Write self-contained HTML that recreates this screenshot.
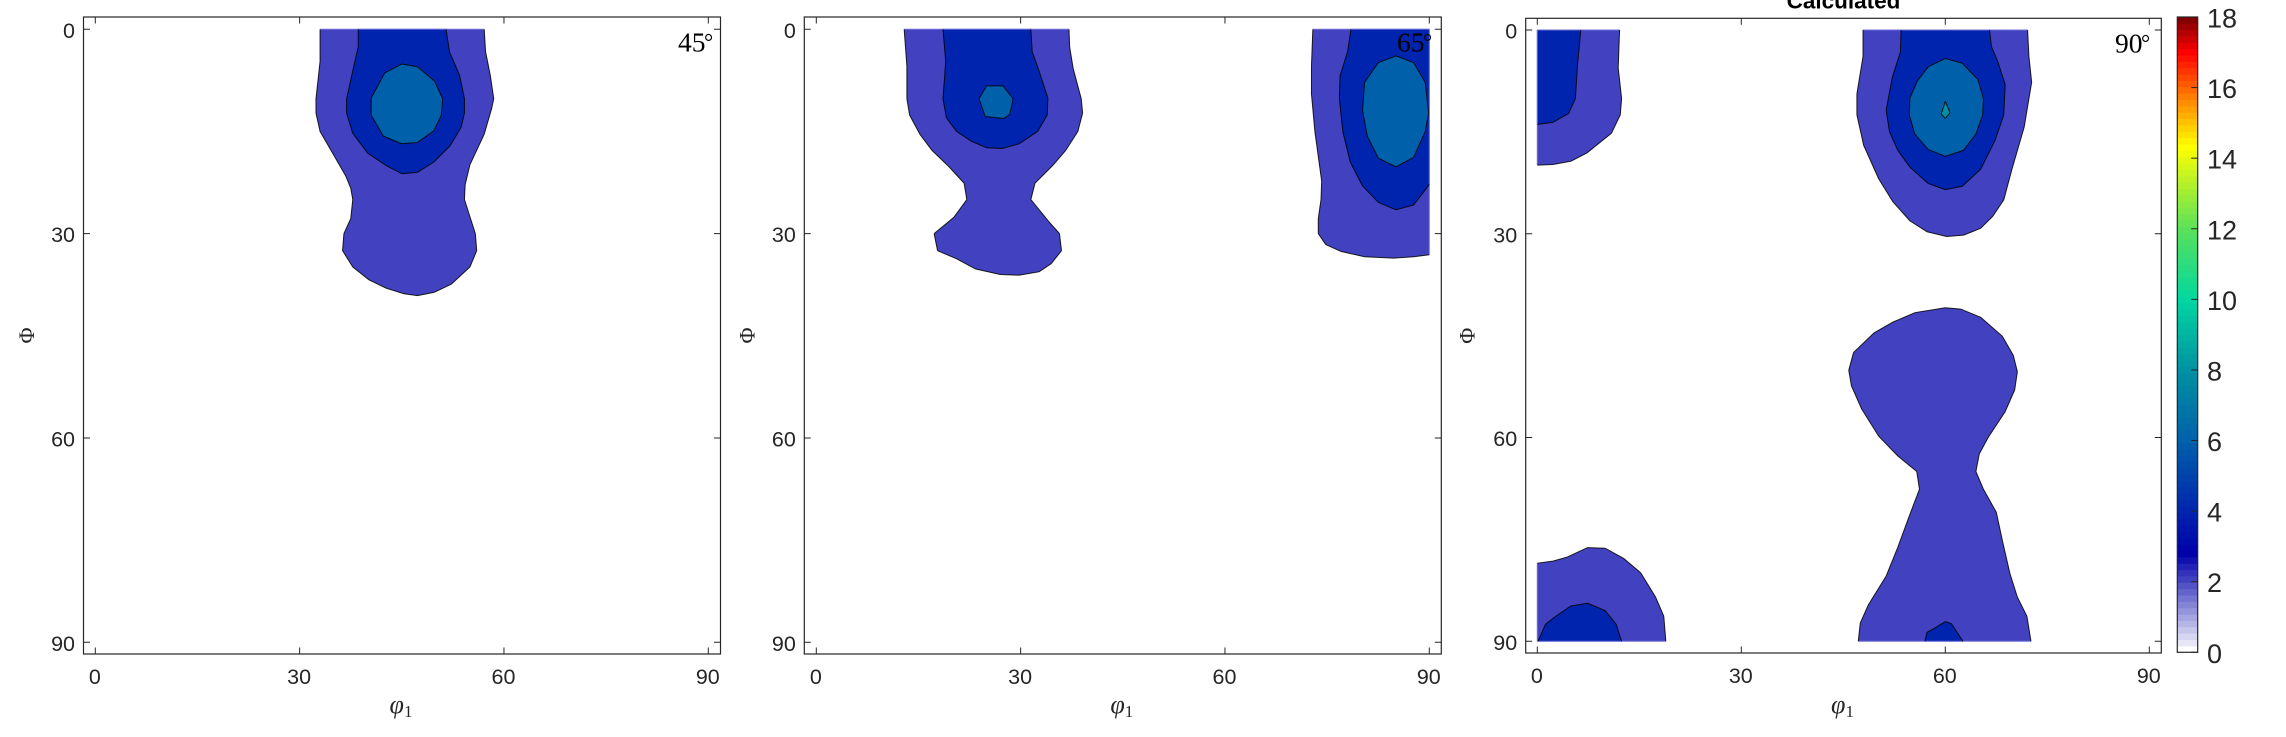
<!DOCTYPE html>
<html lang="en">
<head>
<meta charset="utf-8">
<title>Calculated ODF sections</title>
<style>
html,body{margin:0;padding:0;background:#fff;}
body{width:2286px;height:737px;overflow:hidden;}
svg{display:block;}
.tick{font-family:"Liberation Sans",sans-serif;font-size:21.5px;fill:#262626;}
.cbtick{font-family:"Liberation Sans",sans-serif;font-size:27px;fill:#262626;}
.math{font-family:"Liberation Serif",serif;fill:#262626;}
.anno{font-family:"Liberation Serif",serif;font-size:27.5px;fill:#000;}
.title{font-family:"Liberation Sans",sans-serif;font-size:22.5px;font-weight:bold;fill:#000;}
</style>
</head>
<body>
<svg id="chart" xmlns="http://www.w3.org/2000/svg" width="2286" height="737" viewBox="0 0 2286 737">
  <rect x="0" y="0" width="2286" height="737" fill="#fff"/>
  <text class="title" x="1843.5" y="8.5" text-anchor="middle">Calculated</text>
</svg>
<script>
// ---- chart data: axis ticks ----
const xTickValues = [0, 30, 60, 90];
const yTickValues = [0, 30, 60, 90];
const colorbarTickValues = [0, 2, 4, 6, 8, 10, 12, 14, 16, 18];
const sectionLabels = ['45', '65', '90'];
const contourLevels = { low: 2.07, mid: 4, high: 6, peak: 8 };
const colorbarMax = 18;
const colorbarBandCount = 100;

// ---- chart data: colour map stops, [value, r, g, b] ----
const colormapStops = [
  [0, 255, 255, 255], [2.8, 0, 0, 170], [4, 0, 36, 173], [6, 0, 97, 170], [8, 0, 145, 162],
  [10, 0, 215, 160], [12, 90, 225, 90], [14.35, 255, 255, 0], [15.7, 255, 130, 0],
  [17, 255, 0, 0], [18, 120, 0, 0]
];

// ---- chart data: contours as [phi1, Phi] in degrees ----
const s45Low = [[33,0],[33,4.7],[32.4,10.2],[32.4,12.3],[33,15],[35.2,18.8],[36.8,21.6],[37.5,23.3],[37.8,25],[37.5,27.8],[36.5,30],[36.3,32.5],[37.8,34.9],[40.2,36.8],[42.7,38],[45.2,38.8],[47.3,39.1],[49.8,38.6],[52.3,37.4],[55,34.9],[56,32.5],[55.8,30],[55,27.5],[54.2,25],[54.3,22.8],[55,19.9],[57.1,15.4],[58.2,11.6],[58.5,10.2],[58,6.8],[57.3,3.3],[57.1,0]];
const s45Mid = [[38.6,0],[38.6,2.6],[37.8,6.1],[36.9,10.2],[36.9,12.3],[37.8,15.3],[40,18.2],[42.7,20],[45,21.2],[47.3,21],[49.7,19.5],[52.1,17.1],[53.7,14.4],[54.2,12.3],[54.2,10.2],[53.5,6.8],[52,3.3],[51.5,0]];
const s45High = [[45,5.1],[47.3,5.5],[49.8,7.6],[51,10.2],[50.8,12.6],[49.7,14.9],[47.3,16.6],[45,16.8],[42.3,15.7],[40.5,12.6],[40.5,10.1],[42.5,6.4]];

const s65LeftLow = [[12.9,0],[13.3,5.4],[13.3,10.2],[13.7,12.6],[15.2,15.4],[17,17.8],[19.5,20.2],[21.7,22.6],[22.1,25],[20.2,27.6],[17.3,30],[17.8,32.5],[20.6,33.7],[23.4,35.2],[27,36],[29.8,36.1],[32.7,35.6],[34.5,34.4],[36,32.5],[35.7,30],[34.1,28.2],[31.5,25],[32.1,22.6],[34.8,19.9],[36.6,17.8],[38.4,15],[39.1,12.3],[38.9,10.2],[37.7,5.7],[37.2,2.6],[37.1,0]];
const s65LeftMid = [[18.6,0],[19,4.7],[18.6,10.2],[19.1,13],[20.6,15],[22.7,16.4],[25,17.4],[27.3,17.5],[29.8,16.8],[32.5,15],[33.9,12.6],[34,10.1],[32.7,6.1],[31.7,3.3],[31.5,0]];
const s65LeftHigh = [[25,8.3],[27.4,8.3],[28.9,10.2],[28.4,12.5],[27.5,13.1],[24.8,12.8],[23.9,10.2]];
const s65RightLow = [[72.9,0],[72.7,5.4],[72.7,9.5],[73.2,15],[74.2,22.3],[74.1,25],[73.7,27.8],[73.7,30],[74.8,31.6],[77,32.6],[80.5,33.4],[84.8,33.6],[87.7,33.4],[90,33.1],[90,0]];
const s65RightMid = [[78.5,0],[78,3.3],[76.9,6.8],[76.8,10.2],[77.3,15],[78.4,19.5],[80.2,23],[82.5,25.4],[85.1,26.5],[87.7,25.8],[90,22.8],[90,0]];
const s65RightHigh = [[85.1,3.9],[87.7,4.9],[89.4,7.8],[89.9,12.3],[89.4,15],[87.7,18.8],[85.1,20.2],[82.5,18.9],[80.9,15.7],[80.2,11.9],[80.5,7.8],[82.5,4.9]];

const s90TopLeftLow = [[0,0],[12.1,0],[11.9,5.6],[12.4,10.1],[12.2,12.5],[10.9,15.2],[7.3,18.1],[5,19.3],[2.3,19.8],[0,19.9]];
const s90TopLeftMid = [[0,0],[6.4,0],[5.9,5.3],[5.6,10.1],[4.6,12.3],[2.3,13.6],[0,13.9]];
const s90TopLow = [[47.9,0],[47.9,3.9],[47,9.4],[47,12.5],[48,17],[50.2,21.9],[52.3,25.3],[54.8,28.1],[57.3,29.7],[60.2,30.4],[62.7,30.2],[65.2,29.2],[67,27.4],[68.6,25],[69.8,20.5],[71.6,14.3],[72.7,7.7],[72.3,3.9],[72.1,0]];
const s90TopMid = [[53.5,0],[53.4,3.2],[52.2,7],[51.3,11.8],[51.8,15],[53,17.7],[54.8,20.2],[57.5,22.6],[60,23.5],[62.5,23],[65.2,20.5],[67.3,16.3],[68.6,12.5],[68.8,8],[67.7,4.6],[66.8,2.5],[66.5,0]];
const s90TopHigh = [[60,4.2],[62.5,4.9],[64.8,7.3],[65.6,10.1],[65.5,12.5],[64.5,15.3],[62.7,17.7],[60,18.6],[57.5,17.6],[55.5,15.3],[54.7,12.5],[54.8,10],[55.9,7.5],[57.5,5.4]];
const s90TopPeak = [[60,10.5],[60.7,12.2],[60,13],[59.4,12.4]];
const s90CentreLow = [[60,40.9],[62.3,41.1],[65.2,42.3],[68.4,45.1],[70,47.9],[70.6,50.3],[70.2,53],[68.8,56.2],[66.3,60],[65,62.4],[64.5,65],[65.6,67.6],[67.5,71],[68.4,75.2],[69.5,80],[70.6,83.5],[72,86.3],[72.6,90],[47.2,90],[47.5,87.3],[48.7,84.6],[51.3,80.4],[53,76.2],[54.5,72.1],[56.2,67.6],[55.8,65],[53,62.7],[50.2,59.8],[47.7,55.8],[46.2,52.4],[45.8,50.1],[46.5,47.5],[49.5,44.6],[52.3,43],[55.6,41.6]];
const s90CentreMid = [[57,90],[57.3,88.7],[58.7,87.9],[60,87.1],[60.9,87.4],[62.6,90]];
const s90BottomLeftLow = [[0,78.5],[2.3,78.2],[4.4,77.6],[7.4,76.2],[10,76.3],[12.7,77.8],[15.2,79.9],[17.4,83.5],[18.6,86.3],[18.9,90],[0,90]];
const s90BottomLeftMid = [[0.1,90],[1.2,87.5],[2.6,86.4],[4.9,84.8],[7.4,84.4],[10,85.5],[11.6,87.5],[12.4,90]];

const section45Contours = [
  { level: contourLevels.low, points: s45Low }, { level: contourLevels.mid, points: s45Mid }, { level: contourLevels.high, points: s45High }
];
const section65Contours = [
  { level: contourLevels.low, points: s65LeftLow }, { level: contourLevels.mid, points: s65LeftMid }, { level: contourLevels.high, points: s65LeftHigh },
  { level: contourLevels.low, points: s65RightLow }, { level: contourLevels.mid, points: s65RightMid }, { level: contourLevels.high, points: s65RightHigh }
];
const section90Contours = [
  { level: contourLevels.low, points: s90TopLeftLow }, { level: contourLevels.mid, points: s90TopLeftMid },
  { level: contourLevels.low, points: s90TopLow }, { level: contourLevels.mid, points: s90TopMid }, { level: contourLevels.high, points: s90TopHigh }, { level: contourLevels.peak, points: s90TopPeak },
  { level: contourLevels.low, points: s90CentreLow }, { level: contourLevels.mid, points: s90CentreMid },
  { level: contourLevels.low, points: s90BottomLeftLow }, { level: contourLevels.mid, points: s90BottomLeftMid }
];

// ---- layout (not data) ----
const panelBoxes = [
  { left: 83.5, right: 720.5, top: 17, bottom: 654, x0: 95.3, x90: 708.3, y0: 29.3, y90: 642.3, ylabelX: 27, annoX: 678, annoY: 51.7 },
  { left: 804.3, right: 1441.3, top: 17, bottom: 654, x0: 816.3, x90: 1429.3, y0: 29.3, y90: 642.3, ylabelX: 747.5, annoX: 1397, annoY: 51.7 },
  { left: 1525.7, right: 2161.3, top: 18.3, bottom: 653, x0: 1537.3, x90: 2149.3, y0: 30, y90: 641.3, ylabelX: 1467.5, annoX: 2115, annoY: 52.5 }
];
const colorbarBox = { left: 2177.3, right: 2197.7, top: 17, bottom: 652.3 };
const sectionContours = [section45Contours, section65Contours, section90Contours];

const svg = document.getElementById('chart');
const NS = 'http://www.w3.org/2000/svg';
const AXIS_COLOR = '#262626';

function make(tag, attrs, text) {
  const el = document.createElementNS(NS, tag);
  for (const k in attrs) el.setAttribute(k, attrs[k]);
  if (text !== undefined) el.textContent = text;
  return el;
}

function colormap(v) {
  for (let i = 1; i < colormapStops.length; i++) {
    const a = colormapStops[i - 1], b = colormapStops[i];
    if (v <= b[0]) {
      const t = (v - a[0]) / (b[0] - a[0]);
      return 'rgb(' + [1, 2, 3].map(function (c) { return Math.round(a[c] + (b[c] - a[c]) * t); }).join(',') + ')';
    }
  }
  const last = colormapStops[colormapStops.length - 1];
  return 'rgb(' + last[1] + ',' + last[2] + ',' + last[3] + ')';
}

function onBoundary(p, q) {
  return (p[0] === q[0] && (p[0] === 0 || p[0] === 90)) || (p[1] === q[1] && (p[1] === 0 || p[1] === 90));
}

function drawContour(group, contour, xScale, yScale) {
  const pts = contour.points;
  const fill = make('polygon', {
    points: pts.map(function (p) { return xScale(p[0]).toFixed(2) + ',' + yScale(p[1]).toFixed(2); }).join(' '),
    fill: colormap(contour.level),
    stroke: 'none'
  });
  
  
  group.appendChild(fill);
  let inner = '';
  let edge = '';
  for (let i = 0; i < pts.length; i++) {
    const p = pts[i], q = pts[(i + 1) % pts.length];
    const seg = 'M' + xScale(p[0]).toFixed(2) + ' ' + yScale(p[1]).toFixed(2) + 'L' + xScale(q[0]).toFixed(2) + ' ' + yScale(q[1]).toFixed(2);
    if (onBoundary(p, q)) edge += seg; else inner += seg;
  }
  if (edge) {
    const e = make('path', { d: edge, fill: 'none', stroke: '#6f6fd8', 'stroke-width': 1 });
    
    
    group.appendChild(e);
  }
  const line = make('path', { d: inner, fill: 'none', stroke: '#000', 'stroke-width': 1, 'stroke-opacity': 0.85, 'stroke-linejoin': 'round' });
  
  
  group.appendChild(line);
}

panelBoxes.forEach(function (box, idx) {
  const xScale = function (v) { return box.x0 + (box.x90 - box.x0) * v / 90; };
  const yScale = function (v) { return box.y0 + (box.y90 - box.y0) * v / 90; };

  const group = make('g', {});
  
  
  svg.appendChild(group);

  sectionContours[idx].forEach(function (c) { drawContour(group, c, xScale, yScale); });

  const frame = make('rect', { x: box.left, y: box.top, width: box.right - box.left, height: box.bottom - box.top, fill: 'none', stroke: AXIS_COLOR, 'stroke-width': 1.2 });
  
  
  group.appendChild(frame);

  xTickValues.forEach(function (v) {
    const x = xScale(v);
    const t = make('path', { d: 'M' + x + ' ' + box.bottom + 'v-6.5M' + x + ' ' + box.top + 'v6.5', stroke: AXIS_COLOR, 'stroke-width': 1, fill: 'none' });
    
    
    group.appendChild(t);
    const label = make('text', { class: 'tick', x: x - 0.5, y: box.bottom + 30, 'text-anchor': 'middle' }, String(v));
    
    
    group.appendChild(label);
  });

  yTickValues.forEach(function (v) {
    const y = yScale(v);
    const t = make('path', { d: 'M' + box.left + ' ' + y + 'h6.5M' + box.right + ' ' + y + 'h-6.5', stroke: AXIS_COLOR, 'stroke-width': 1, fill: 'none' });
    
    
    group.appendChild(t);
    const label = make('text', { class: 'tick', x: box.left - 8.5, y: y + 8.5, 'text-anchor': 'end' }, String(v));
    
    
    group.appendChild(label);
  });

  const cx = (box.left + box.right) / 2;
  const xTitle = make('text', { class: 'math', x: cx - 1, y: 713, 'text-anchor': 'middle', 'font-size': 26 });
  
  
  const phi = make('tspan', { 'font-style': 'italic' }, '\u03C6');
  const sub = make('tspan', { dy: 4, 'font-size': 17 }, '1');
  xTitle.appendChild(phi);
  xTitle.appendChild(sub);
  group.appendChild(xTitle);

  const cy = (box.top + box.bottom) / 2;
  const yTitle = make('text', { class: 'math', x: 0, y: 0, 'text-anchor': 'middle', 'font-size': 22, transform: 'translate(' + (box.ylabelX + 7) + ' ' + cy + ') rotate(-90)' }, '\u03A6');
  
  
  group.appendChild(yTitle);

  const anno = make('text', { class: 'anno', x: box.annoX, y: box.annoY });
  
  
  const annoValue = make('tspan', {}, sectionLabels[idx]);
  const annoDegree = make('tspan', { dx: -1.5, 'font-size': 23, dy: -2 }, '\u00B0');
  anno.appendChild(annoValue);
  anno.appendChild(annoDegree);
  group.appendChild(anno);
});

// colorbar
(function () {
  const box = colorbarBox;
  const cbGroup = make('g', {});
  
  
  svg.appendChild(cbGroup);
  const yScale = function (v) { return box.bottom - (box.bottom - box.top) * v / colorbarMax; };
  const step = colorbarMax / colorbarBandCount;
  for (let i = 0; i < colorbarBandCount; i++) {
    const y1 = yScale(i * step), y2 = yScale((i + 1) * step);
    const band = make('rect', { x: box.left, y: y2, width: box.right - box.left, height: y1 - y2 + 0.4, fill: colormap(i * step + (i === 0 ? 0 : step * 0.5)) });
    
    
    cbGroup.appendChild(band);
  }
  const frame = make('rect', { x: box.left, y: box.top, width: box.right - box.left, height: box.bottom - box.top, fill: 'none', stroke: AXIS_COLOR, 'stroke-width': 1.2 });
  
  
  cbGroup.appendChild(frame);
  colorbarTickValues.forEach(function (v) {
    const y = yScale(v);
    const t = make('path', { d: 'M' + box.right + ' ' + y + 'h-6.5', stroke: AXIS_COLOR, 'stroke-width': 1, fill: 'none' });
    
    
    cbGroup.appendChild(t);
    const label = make('text', { class: 'cbtick', x: 2207, y: y + 10.5 }, String(v));
    
    
    cbGroup.appendChild(label);
  });
})();
</script>
</body>
</html>
